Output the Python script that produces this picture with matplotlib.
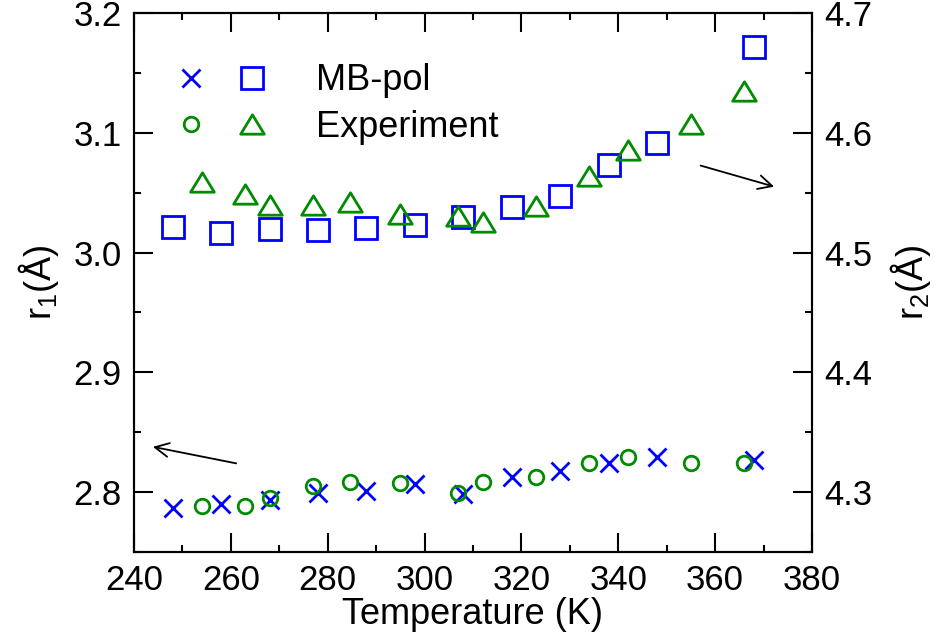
import matplotlib
matplotlib.use("Agg")
import matplotlib.pyplot as plt
from matplotlib.legend_handler import HandlerTuple
from matplotlib.ticker import MultipleLocator, FormatStrFormatter
from matplotlib.path import Path

plt.rcParams['font.family'] = ['Liberation Sans', 'DejaVu Sans']
plt.rcParams['mathtext.default'] = 'regular'

# MB-pol simulation
T_mb = [248, 258, 268, 278, 288, 298, 308, 318, 328, 338, 348, 368]
r1_mb = [2.7865, 2.790, 2.7935, 2.799, 2.8013, 2.8068, 2.7985, 2.8124, 2.818, 2.8241, 2.8291, 2.8269]
r2_mb = [4.5216, 4.516, 4.520, 4.519, 4.5205, 4.5228, 4.530, 4.5378, 4.5472, 4.5729, 4.5917, 4.6714]

# experiment
T_exp = [254, 263, 268, 277, 284.5, 295, 307, 312, 323, 334, 342, 355, 366]
r1_exp = [2.7887, 2.7887, 2.795, 2.8052, 2.8088, 2.808, 2.799, 2.8088, 2.813, 2.8246, 2.8291, 2.8241, 2.8246]
r2_exp = [4.5587, 4.5491, 4.540, 4.540, 4.5425, 4.5324, 4.5304, 4.5255, 4.5388, 4.5638, 4.5858, 4.6075, 4.635]

blue = '#0000ff'
green = '#008b00'
fs = 25     # tick labels
lfs = 26    # axis labels and legend

# flatter triangle like the original
tri = Path([(0, 0.82), (-1, -0.82), (1, -0.82), (0, 0.82)],
           [Path.MOVETO, Path.LINETO, Path.LINETO, Path.CLOSEPOLY])

fig = plt.figure(figsize=(9.41, 6.42), dpi=100)
ax = fig.add_axes([0.1424, 0.1402, 0.7205, 0.8396])
ax2 = ax.twinx()

hx, = ax.plot(T_mb, r1_mb, ls='none', marker='x', ms=13, mew=2, color=blue)
hc, = ax.plot(T_exp, r1_exp, ls='none', marker='o', ms=10.5, mfc='none', mew=2, color=green)
hs, = ax2.plot(T_mb, r2_mb, ls='none', marker='s', ms=15.5, mfc='none', mew=2, color=blue)
ht, = ax2.plot(T_exp, r2_exp, ls='none', marker=tri, ms=17, mfc='none', mew=2, color=green)

ax.set_xlim(240, 380)
ax.set_ylim(2.75, 3.2)
ax2.set_ylim(4.25, 4.7)

ax.xaxis.set_major_locator(MultipleLocator(20))
ax.xaxis.set_minor_locator(MultipleLocator(10))
ax.set_yticks([2.8, 2.9, 3.0, 3.1, 3.2])
ax.yaxis.set_minor_locator(MultipleLocator(0.05))
ax.yaxis.set_major_formatter(FormatStrFormatter('%.1f'))
ax2.set_yticks([4.3, 4.4, 4.5, 4.6, 4.7])
ax2.yaxis.set_minor_locator(MultipleLocator(0.05))
ax2.yaxis.set_major_formatter(FormatStrFormatter('%.1f'))

ax.tick_params(which='both', direction='in', top=True, right=False, width=1.5, labelsize=fs, pad=9)
ax.tick_params(which='major', length=14)
ax.tick_params(which='minor', length=5)
ax2.tick_params(which='both', direction='in', width=1.5, labelsize=fs, pad=9)
ax2.tick_params(which='major', length=14)
ax2.tick_params(which='minor', length=5)
for a in (ax, ax2):
    for s in a.spines.values():
        s.set_linewidth(1.5)

ax.set_xlabel('Temperature (K)', fontsize=lfs, labelpad=0)
ax.set_ylabel('r$_1$(Å)', fontsize=lfs, labelpad=9)
ax2.set_ylabel('r$_2$(Å)', fontsize=lfs, rotation=90, labelpad=11)

# arrows pointing to the matching axis
arrow = dict(arrowstyle='->,head_length=0.5,head_width=0.25', lw=1.3, color='black',
             mutation_scale=20, shrinkA=0, shrinkB=0)
ax.annotate('', xy=(243.9, 2.8378), xytext=(261.1, 2.824), arrowprops=arrow)
ax.annotate('', xy=(372.2, 3.055), xytext=(357.0, 3.0726), arrowprops=arrow)

ax2.legend([(hx, hs), (hc, ht)], ['MB-pol', 'Experiment'],
           handler_map={tuple: HandlerTuple(ndivide=None, pad=0)},
           frameon=False, fontsize=lfs, loc='upper left',
           bbox_to_anchor=(0.0386, 0.9063), borderpad=0, borderaxespad=0,
           handlelength=3.39, handletextpad=0.92, labelspacing=0.32)

fig.savefig('out.png', dpi=100)
